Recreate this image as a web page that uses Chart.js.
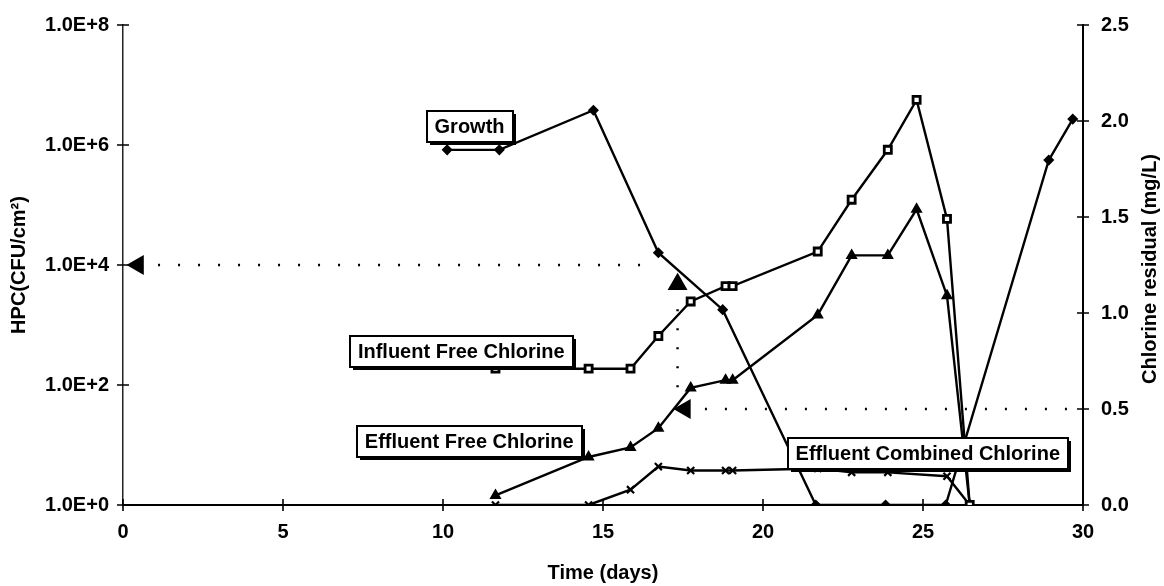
<!DOCTYPE html>
<html>
<head>
<meta charset="utf-8">
<script src="https://cdn.jsdelivr.net/npm/chart.js@4.4.1/dist/chart.umd.min.js"></script>
<style>
html,body{margin:0;background:#fff}
#wrap{width:1164px;height:586px}
</style>
</head>
<body>
<div id="wrap"><canvas id="c"></canvas></div>
<script>
// HPC growth (log, left) and chlorine residuals (right) against time
const growthDays=[10.13,11.76,14.70,16.73,18.74,21.65,23.83,25.71,28.93,29.68];
const growthHPC=[8.3e5,8.3e5,3.8e6,1.6e4,1.8e3,1,1,1,5.6e5,2.7e6];
const clDays=[11.64,14.55,15.86,16.73,17.74,18.83,19.05,21.71,22.77,23.9,24.8,25.75,26.46];
const influentFree=[0.71,0.71,0.71,0.88,1.06,1.14,1.14,1.32,1.59,1.85,2.11,1.49,0];
const effluentFree=[0.05,0.25,0.30,0.40,0.61,0.65,0.65,0.99,1.30,1.30,1.54,1.09,0];
const combDays=[11.64,14.55,15.86,16.73,17.74,18.83,19.05,21.71,22.77,23.9,25.75,26.46];
const effluentComb=[0,0,0.08,0.20,0.18,0.18,0.18,0.19,0.17,0.17,0.15,0];
// dotted guide lines
const hpcGuideDays=[0.47,16.6],hpcGuideVal=[1e4,1e4];
const hpcMarkDays=[17.33],hpcMarkVal=[4.8e3];
const dropDays=[17.33,17.33],dropVal=[1.02,0.60];
const clGuideDays=[17.56,30],clGuideVal=[0.5,0.5];
// tick labels
const xTicks=[0,5,10,15,20,25,30];
const hpcExp=[0,2,4,6,8];
const clTicks=[0,0.5,1,1.5,2,2.5];
// series name boxes, placed in (day, mg/L)
const boxText=['Growth','Influent Free Chlorine','Effluent Free Chlorine','Effluent Combined Chlorine'];
const boxAt=[[10.83,1.97],[10.57,0.80],[10.82,0.33],[25.15,0.27]];

const FONT='"Liberation Sans", Arial, sans-serif';
const xy=(d,v)=>d.map((x,i)=>({x,y:v[i]}));

const tickMarks={id:'tickMarks',afterDraw(c){
  const ctx=c.ctx,{x,y,y1}=c.scales;
  ctx.save();ctx.strokeStyle='#000';ctx.lineWidth=1.6;ctx.beginPath();
  x.ticks.forEach(t=>{const p=x.getPixelForValue(t.value);ctx.moveTo(p,x.top-6);ctx.lineTo(p,x.top+6)});
  y.ticks.forEach(t=>{const p=y.getPixelForValue(t.value);ctx.moveTo(y.right-6,p);ctx.lineTo(y.right+6,p)});
  y1.ticks.forEach(t=>{const p=y1.getPixelForValue(t.value);ctx.moveTo(y1.left-6,p);ctx.lineTo(y1.left+6,p)});
  ctx.stroke();ctx.restore();
}};

const boxes={id:'boxes',afterDatasetsDraw(c){
  const ctx=c.ctx,{x,y1}=c.scales;
  ctx.save();
  ctx.font='bold 20px '+FONT;ctx.textAlign='center';ctx.textBaseline='middle';
  boxText.forEach((t,i)=>{
    const cx=x.getPixelForValue(boxAt[i][0]),cy=y1.getPixelForValue(boxAt[i][1]);
    const w=Math.round(ctx.measureText(t).width+16),h=31,x0=Math.round(cx-w/2),y0=Math.round(cy-h/2);
    ctx.fillStyle='#000';ctx.fillRect(x0+3,y0+3,w,h);
    ctx.fillStyle='#fff';ctx.fillRect(x0,y0,w,h);
    ctx.lineWidth=2;ctx.strokeStyle='#000';ctx.strokeRect(x0,y0,w,h);
    ctx.fillStyle='#000';ctx.fillText(t,cx,cy+1);
  });
  // right axis title reads bottom to top
  ctx.translate(1150,(c.chartArea.top+c.chartArea.bottom)/2+4);ctx.rotate(-Math.PI/2);
  ctx.font='bold 20px '+FONT;ctx.fillText('Chlorine residual (mg/L)',0,0);
  ctx.restore();
}};

const line=(label,data,axis,extra)=>Object.assign({label,data,yAxisID:axis,borderColor:'#000',backgroundColor:'#000',
  pointBorderColor:'#000',pointBackgroundColor:'#000',borderWidth:2.4,pointBorderWidth:1.5},extra);

new Chart(document.getElementById('c'),{
  type:'line',
  data:{datasets:[
    line('Growth',xy(growthDays,growthHPC),'y',{pointStyle:'rectRot',pointRadius:4.5}),
    line('Influent Free Chlorine',xy(clDays,influentFree),'y1',{pointStyle:'rect',pointRadius:5,pointBackgroundColor:'#fff',pointBorderWidth:2.8}),
    line('Effluent Free Chlorine',xy(clDays,effluentFree),'y1',{pointStyle:'triangle',pointRadius:5.5}),
    line('Effluent Combined Chlorine',xy(combDays,effluentComb),'y1',{pointStyle:'crossRot',pointRadius:5,pointBorderWidth:2.2}),
    line('hpc guide',xy(hpcGuideDays,hpcGuideVal),'y',{borderDash:[2,18],borderWidth:2.5,pointStyle:'triangle',pointRadius:[10,0],pointRotation:[-90,0]}),
    line('hpc mark',xy(hpcMarkDays,hpcMarkVal),'y',{showLine:false,pointStyle:'triangle',pointRadius:10}),
    line('drop',xy(dropDays,dropVal),'y1',{borderDash:[2,17],borderWidth:2.5,pointRadius:0}),
    line('cl guide',xy(clGuideDays,clGuideVal),'y1',{borderDash:[2,18],borderWidth:2.5,pointStyle:'triangle',pointRadius:[10,0],pointRotation:[-90,0]})
  ]},
  options:{
    responsive:true,maintainAspectRatio:false,animation:false,
    layout:{padding:{top:25,left:0,right:0,bottom:0}},
    plugins:{legend:{display:false},tooltip:{enabled:false}},
    elements:{line:{tension:0}},
    scales:{
      x:{type:'linear',min:0,max:30,
        afterFit:s=>{s.height=81},
        afterBuildTicks:s=>{s.ticks=xTicks.map(v=>({value:v}))},
        grid:{drawOnChartArea:false,drawTicks:false},
        border:{color:'#000',width:2},
        ticks:{color:'#000',padding:15,font:{family:FONT,size:20,weight:'bold'}},
        title:{display:true,text:'Time (days)',color:'#000',padding:{top:0,bottom:1},font:{family:FONT,size:20,weight:'bold'}}},
      y:{type:'logarithmic',position:'left',min:1,max:1e8,
        afterFit:s=>{s.width=123;s.paddingTop=0;s.paddingBottom=0},
        afterBuildTicks:s=>{s.ticks=hpcExp.map(e=>({value:10**e}))},
        grid:{drawOnChartArea:false,drawTicks:false},
        border:{color:'#222',width:1.5,dash:[14,4,2,4]},
        ticks:{color:'#000',padding:14,autoSkip:false,font:{family:FONT,size:20,weight:'bold'},
          callback:v=>'1.0E+'+Math.round(Math.log10(v))},
        title:{display:true,text:'HPC(CFU/cm²)',color:'#000',padding:{top:7,bottom:0},font:{family:FONT,size:20,weight:'bold'}}},
      y1:{type:'linear',position:'right',min:0,max:2.5,
        afterFit:s=>{s.width=81;s.paddingTop=0;s.paddingBottom=0},
        afterBuildTicks:s=>{s.ticks=clTicks.map(v=>({value:v}))},
        grid:{drawOnChartArea:false,drawTicks:false},
        border:{color:'#000',width:2},
        ticks:{color:'#000',padding:18,font:{family:FONT,size:20,weight:'bold'},callback:v=>v.toFixed(1)}}
    }
  },
  plugins:[tickMarks,boxes]
});
</script>
</body>
</html>
